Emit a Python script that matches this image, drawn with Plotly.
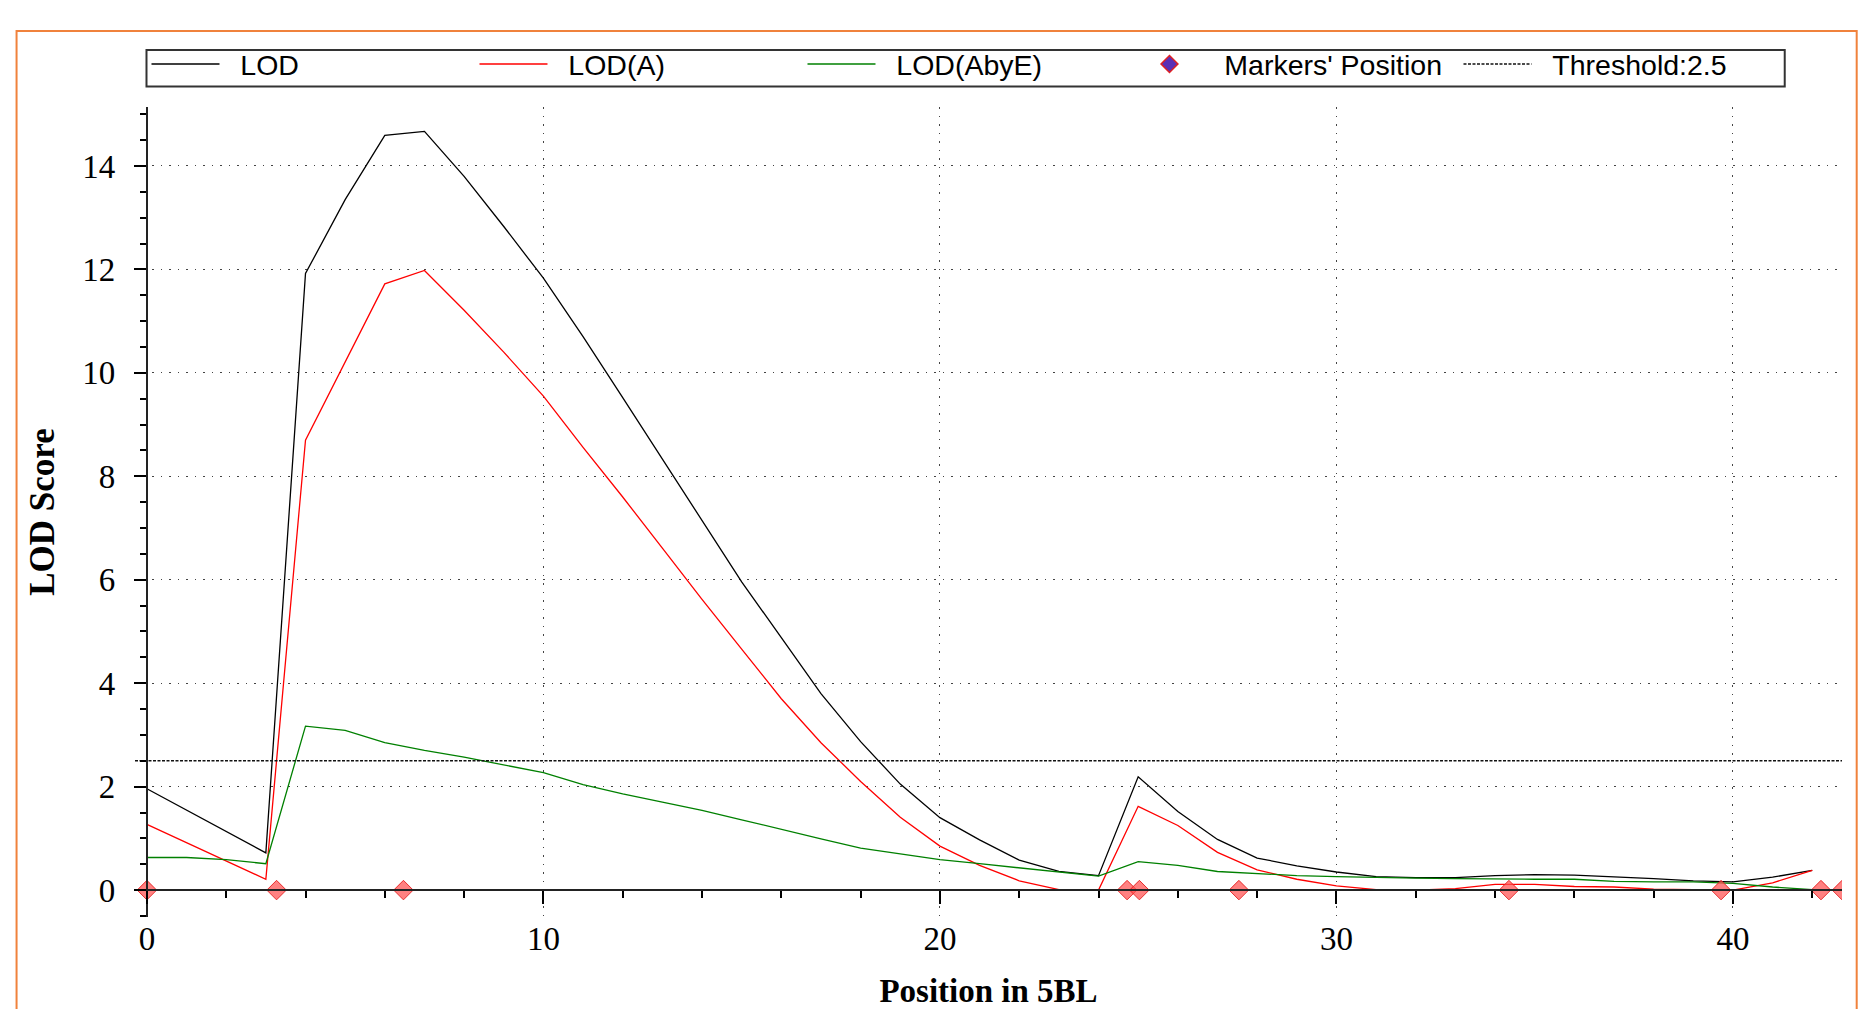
import plotly.graph_objects as go

# ---------------- data ----------------
positions = list(range(0, 43))  # cM, 1 cM scan step

lod = [1.96, 1.55, 1.13, 0.72, 11.92, 13.35, 14.59, 14.67, 13.80, 12.83,
       11.83, 10.70, 9.52, 8.33, 7.14, 5.96, 4.88, 3.80, 2.87, 2.05,
       1.40, 0.97, 0.58, 0.36, 0.28, 2.19, 1.52, 0.98, 0.62, 0.47,
       0.35, 0.26, 0.24, 0.24, 0.28, 0.30, 0.29, 0.26, 0.22, 0.18,
       0.16, 0.25, 0.38]

lod_a = [1.27, 0.92, 0.56, 0.21, 8.70, 10.20, 11.72, 11.98, 11.21, 10.40,
         9.55, 8.56, 7.60, 6.61, 5.62, 4.66, 3.70, 2.85, 2.10, 1.41,
         0.85, 0.48, 0.18, 0.01, 0.00, 1.62, 1.25, 0.73, 0.39, 0.21,
         0.08, 0.01, 0.00, 0.03, 0.11, 0.11, 0.07, 0.06, 0.02, 0.01,
         0.00, 0.14, 0.38]

lod_abye = [0.63, 0.63, 0.59, 0.51, 3.17, 3.09, 2.85, 2.70, 2.57, 2.42,
            2.27, 2.04, 1.86, 1.70, 1.54, 1.36, 1.17, 0.99, 0.81, 0.70,
            0.59, 0.51, 0.43, 0.35, 0.27, 0.55, 0.48, 0.36, 0.32, 0.28,
            0.26, 0.24, 0.23, 0.22, 0.21, 0.21, 0.21, 0.17, 0.16, 0.16,
            0.13, 0.06, 0.01]

marker_positions = [0.0, 3.27, 6.47, 24.72, 25.03, 27.54, 34.35, 39.70, 42.22, 42.75]
marker_lod = [0] * len(marker_positions)

threshold = 2.5

x_range = [-0.3, marker_positions[-1]]
y_range = [-0.52, 15.14]
y_tick_vals = [0, 2, 4, 6, 8, 10, 12, 14]
x_tick_vals = [0, 10, 20, 30, 40]

# ---------------- layout geometry ----------------
OFF = 8  # page body margin offset
W, H = 1866 - OFF, 1009 - OFF
ML, MR, MT, MB = 134.5 - OFF, 23.7, 107 - OFF, 92.2
PW = W - ML - MR
PH = H - MT - MB


def px_x(p):
    return ((p - OFF) - ML) / PW


def px_y(p):
    return (H - MB - (p - OFF)) / PH


serif = "Liberation Serif, Times New Roman, serif"
sans = "Liberation Sans, Arial, sans-serif"
GAP = "\u00a0\u00a0"

fig = go.Figure()

fig.add_trace(go.Scatter(x=positions, y=lod, mode="lines", name=GAP + "LOD",
                         line=dict(color="#000000", width=1.3)))
fig.add_trace(go.Scatter(x=positions, y=lod_a, mode="lines", name=GAP + "LOD(A)",
                         line=dict(color="#FF0000", width=1.3)))
fig.add_trace(go.Scatter(x=positions, y=lod_abye, mode="lines", name=GAP + "LOD(AbyE)",
                         line=dict(color="#008000", width=1.3)))
# legend entry for markers
fig.add_trace(go.Scatter(x=[None], y=[None], mode="markers", name=GAP + "Markers' Position",
                         marker=dict(symbol="diamond", size=13, color="#5B2FB5",
                                     line=dict(color="#E02020", width=1.5))))
fig.add_trace(go.Scatter(x=x_range, y=[threshold, threshold], mode="lines",
                         name=GAP + "Threshold:" + str(threshold),
                         line=dict(color="#111111", width=1.5, dash="3px,1.5px")))
fig.add_trace(go.Scatter(x=marker_positions, y=marker_lod, mode="markers",
                         showlegend=False, name="Markers",
                         marker=dict(symbol="diamond", size=15,
                                     color="rgba(255,80,80,0.72)",
                                     line=dict(color="rgba(230,30,30,0.9)", width=1))))

x_pos_frac = (0 - y_range[0]) / (y_range[1] - y_range[0])
y_pos_frac = (0 - x_range[0]) / (x_range[1] - x_range[0])

grid_style = dict(showgrid=True, gridcolor="#444444", gridwidth=1.3, griddash="1.5px,7px")

fig.update_layout(
    width=W, height=H,
    margin=dict(l=ML, r=MR, t=MT, b=MB, autoexpand=False),
    paper_bgcolor="white", plot_bgcolor="white",
    showlegend=True,
    xaxis=dict(
        range=x_range, anchor="free", position=x_pos_frac,
        tickvals=x_tick_vals, ticks="outside", ticklen=13, tickwidth=1.5, tickcolor="black",
        minor=dict(dtick=2, tick0=0, ticks="outside", ticklen=7, tickwidth=1.5,
                   tickcolor="black", showgrid=False),
        showline=True, linecolor="#222222", linewidth=2,
        zeroline=False,
        tickfont=dict(family=serif, size=33, color="black"),
        ticklabelstandoff=6,
        title=dict(text="Position in 5BL", standoff=37,
                   font=dict(family=serif, size=33, color="black", weight="bold")),
        **grid_style,
    ),
    yaxis=dict(
        range=y_range, anchor="free", position=y_pos_frac,
        tickvals=y_tick_vals, ticks="outside", ticklen=12, tickwidth=1.5, tickcolor="black",
        minor=dict(dtick=0.5, tick0=0, ticks="outside", ticklen=6, tickwidth=1.5,
                   tickcolor="black", showgrid=False),
        showline=True, linecolor="#222222", linewidth=2,
        zeroline=False,
        tickfont=dict(family=serif, size=33, color="black"),
        ticklabelstandoff=12,
        title=dict(text="LOD Score", standoff=16,
                   font=dict(family=serif, size=35, color="black", weight="bold")),
        **grid_style,
    ),
    legend=dict(
        orientation="h", x=px_x(146), xanchor="left", y=px_y(39), yanchor="top",
        borderwidth=0, bgcolor="rgba(0,0,0,0)",
        font=dict(family=sans, size=28.5, color="black"),
        itemwidth=68, entrywidth=245, entrywidthmode="pixels",
        traceorder="normal", itemclick=False, itemdoubleclick=False,
    ),
    shapes=[
        dict(type="rect", xref="paper", yref="paper",
             x0=px_x(16), x1=px_x(1857), y0=px_y(1040), y1=px_y(31),
             line=dict(color="#F0823C", width=2), fillcolor="rgba(0,0,0,0)", layer="below"),
        dict(type="rect", xref="paper", yref="paper",
             x0=px_x(146), x1=px_x(1785), y0=px_y(86.5), y1=px_y(50),
             line=dict(color="#333333", width=2), fillcolor="white", layer="below"),
    ],
)

fig.write_html("out.html")
